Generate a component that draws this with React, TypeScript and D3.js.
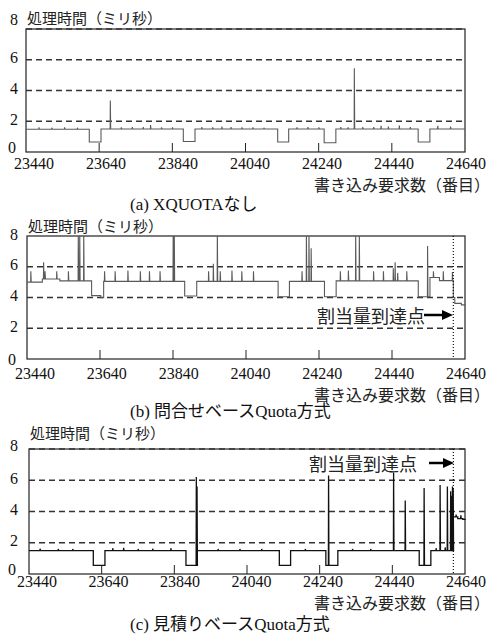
import React from 'react'
import * as d3 from 'd3'

const xTicks = [23440, 23640, 23840, 24040, 24240, 24440, 24640]
const yTicks = [0, 2, 4, 6, 8]

// [from, to, level] segments
const levelsA: [number, number, number][] = [
  [23440, 23613, 1.48], [23613, 23645, 0.65], [23645, 23870, 1.5], [23870, 23902, 0.68],
  [23902, 24128, 1.5], [24128, 24158, 0.65], [24158, 24255, 1.5], [24255, 24287, 0.6],
  [24287, 24512, 1.5], [24512, 24544, 0.65], [24544, 24640, 1.5],
]
const spikesA: [number, number][] = [
  [23475, 1.6], [23510, 1.58], [23545, 1.6], [23580, 1.58], [23670, 3.35], [23700, 1.6],
  [23730, 1.62], [23760, 1.62], [23780, 1.75], [23810, 1.6], [23840, 1.6], [23920, 1.62],
  [23950, 1.6], [23975, 1.65], [24000, 1.62], [24030, 1.6], [24060, 1.6], [24090, 1.58],
  [24180, 1.6], [24210, 1.62], [24240, 1.6], [24300, 1.62], [24320, 1.6], [24337, 5.45],
  [24360, 1.62], [24390, 1.62], [24410, 1.7], [24430, 1.65], [24460, 1.72], [24490, 1.62],
  [24565, 1.7], [24600, 1.65],
]

const levelsB: [number, number, number][] = [
  [23440, 23482, 5.0], [23482, 23530, 5.2], [23530, 23617, 5.08], [23617, 23642, 4.12],
  [23642, 23650, 3.98], [23650, 23872, 5.05], [23872, 23905, 4.1], [23905, 24128, 5.05],
  [24128, 24159, 4.05], [24159, 24255, 5.05], [24255, 24287, 4.05], [24287, 24512, 5.08],
  [24512, 24544, 4.05], [24544, 24570, 5.3], [24570, 24608, 5.1], [24608, 24612, 4.0],
  [24612, 24630, 3.62], [24630, 24642, 3.52],
]
const spikesB: [number, number][] = [
  [23450, 5.7], [23485, 6.3], [23489, 5.7], [23521, 5.7], [23553, 5.7], [23580, 8.3],
  [23584, 8.3], [23595, 8.3], [23652, 5.7], [23681, 5.7], [23716, 5.75], [23750, 5.7],
  [23775, 5.7], [23804, 5.7], [23840, 8.3], [23843, 8.3], [23937, 5.7], [23950, 6.2],
  [23961, 8.3], [23969, 5.7], [24001, 5.75], [24028, 5.7], [24060, 5.7], [24193, 5.7],
  [24205, 8.3], [24212, 8.3], [24218, 7.2], [24298, 5.7], [24320, 5.75], [24340, 8.3],
  [24350, 8.3], [24389, 5.7], [24416, 5.7], [24443, 5.9], [24448, 6.3], [24455, 5.6],
  [24480, 5.7], [24537, 7.35], [24553, 5.7], [24580, 5.7], [24605, 5.65],
]

const levelsC: [number, number, number][] = [
  [23440, 23617, 1.5], [23617, 23649, 0.55], [23649, 23872, 1.5], [23872, 23903, 0.55],
  [23903, 24129, 1.5], [24129, 24160, 0.55], [24160, 24257, 1.5], [24257, 24290, 0.55],
  [24290, 24514, 1.5], [24514, 24546, 0.55], [24546, 24608, 1.5], [24608, 24620, 3.65],
  [24620, 24634, 3.55], [24634, 24642, 3.5],
]
const spikesC: [number, number][] = [
  [23470, 1.62], [23520, 1.6], [23560, 1.6], [23670, 1.65], [23700, 1.68], [23740, 1.6],
  [23780, 1.62], [23830, 1.65], [23900, 6.2], [23902, 5.6], [23960, 1.6], [24020, 1.6],
  [24080, 1.6], [24200, 1.6], [24264, 6.3], [24330, 1.6], [24380, 1.6], [24443, 6.5],
  [24475, 4.7], [24527, 5.5], [24560, 1.65], [24571, 5.7], [24585, 1.7], [24591, 5.6],
  [24600, 5.3], [24603, 5.0], [24605, 5.6], [24607, 5.5], [24615, 3.8], [24628, 3.75],
]

const xAxisTitle = '書き込み要求数（番目）'
const yAxisTitle = '処理時間（ミリ秒）'
const quotaLabel = '割当量到達点'
const quotaPoint = 24608

const panels = [
  {
    key: 'a', levels: levelsA, spikes: spikesA, caption: '(a) XQUOTAなし',
    left: 26, right: 465, top: 29, bottom: 152, titleY: 17, tickY: 163, xTitleY: 184, captionY: 204,
    grid: [2, 4, 6, 8], color: '#5a5a5a', width: 1.1, topLabelDy: -8, zeroDy: -3,
    quota: null as null | { textX: number; y: number; a0: number; a1: number },
  },
  {
    key: 'b', levels: levelsB, spikes: spikesB, caption: '(b) 問合せベースQuota方式',
    left: 27, right: 465, top: 236, bottom: 359, titleY: 225, tickY: 373, xTitleY: 394, captionY: 411,
    grid: [2, 4, 6], color: '#5a5a5a', width: 1.1, topLabelDy: 0, zeroDy: 2,
    quota: { textX: 425, y: 315, a0: 424, a1: 453 },
  },
  {
    key: 'c', levels: levelsC, spikes: spikesC, caption: '(c) 見積りベースQuota方式',
    left: 29, right: 465, top: 449, bottom: 574, titleY: 432, tickY: 581, xTitleY: 602, captionY: 624,
    grid: [2, 4, 6, 8], color: '#111', width: 1.3, topLabelDy: -2, zeroDy: -3,
    quota: { textX: 417, y: 463, a0: 429, a1: 454 },
  },
]

function buildSeries(levels: [number, number, number][], spikes: [number, number][]) {
  const pts: [number, number][] = []
  levels.forEach(([x0, x1, y]) => {
    pts.push([x0, y])
    spikes
      .filter(([sx]) => sx >= x0 && sx < x1)
      .sort((p, q) => p[0] - q[0])
      .forEach(([sx, peak]) => {
        pts.push([sx, y], [sx + 0.5, peak], [sx + 1.5, y])
      })
    pts.push([x1, y])
  })
  return pts
}

const serif = '"Liberation Serif", "DejaVu Serif", serif'
const cjk = '"Noto Sans CJK JP", "Noto Sans", sans-serif'

function Panel({ p }: { p: (typeof panels)[number] }) {
  const x = d3.scaleLinear().domain([23440, 24640]).range([p.left, p.right])
  const xLab = d3.scaleLinear().domain([23440, 24640]).range([p.left + 8, p.right + 1])
  const y = d3.scaleLinear().domain([0, 8]).range([p.bottom, p.top])
  const line = d3.line<[number, number]>().x((d) => x(d[0])).y((d) => y(d[1]))
  const series = buildSeries(p.levels, p.spikes)
  const clipId = `clip-${p.key}`
  return (
    <g>
      <defs>
        <clipPath id={clipId}>
          <rect x={p.left} y={p.top} width={p.right - p.left + 6} height={p.bottom - p.top} />
        </clipPath>
      </defs>
      <rect x={p.left} y={p.top} width={p.right - p.left} height={p.bottom - p.top} fill="none" stroke="#222" strokeWidth={1.2} />
      {p.grid.map((g) => (
        <line key={g} x1={p.left} x2={p.right} y1={y(g)} y2={y(g)} stroke="#333" strokeWidth={1.3} strokeDasharray="6,4" />
      ))}
      {xTicks.slice(1, -1).map((t) => (
        <line key={t} x1={x(t)} x2={x(t)} y1={p.bottom} y2={p.bottom - 9} stroke="#222" strokeWidth={1} />
      ))}
      <path d={line(series) ?? ''} fill="none" stroke={p.color} strokeWidth={p.width} clipPath={`url(#${clipId})`} />
      {p.quota && (
        <g>
          <line x1={x(quotaPoint)} x2={x(quotaPoint)} y1={p.top} y2={p.bottom} stroke="#111" strokeWidth={1.2} strokeDasharray="1,2" />
          <text x={p.quota.textX} y={p.quota.y} textAnchor="end" dominantBaseline="central" fontFamily={cjk} fontSize={18} fill="#222">
            {quotaLabel}
          </text>
          <line x1={p.quota.a0} x2={p.quota.a1 - 10} y1={p.quota.y} y2={p.quota.y} stroke="#000" strokeWidth={2.5} />
          <path d={`M${p.quota.a1},${p.quota.y} l-11,-5 v10 z`} fill="#000" />
        </g>
      )}
      {yTicks.map((t) => (
        <text key={t} x={t === 0 ? 12 : 14} y={y(t) - 2 + (t === 8 ? p.topLabelDy : 0) + (t === 0 ? p.zeroDy : 0)}
          textAnchor="middle" dominantBaseline="central" fontFamily={serif} fontSize={16} fill="#111">
          {t}
        </text>
      ))}
      {xTicks.map((t) => (
        <text key={t} x={xLab(t)} y={p.tickY} textAnchor="middle" dominantBaseline="central" fontFamily={serif} fontSize={16} fill="#111">
          {t}
        </text>
      ))}
      <text x={p.left + 1} y={p.titleY} dominantBaseline="central" fontFamily={cjk} fontSize={15} fill="#222">
        {yAxisTitle}
      </text>
      <text x={490} y={p.xTitleY} textAnchor="end" dominantBaseline="central" fontFamily={cjk} fontSize={16} fill="#222">
        {xAxisTitle}
      </text>
      <text x={130} y={p.captionY} dominantBaseline="central" fontFamily={`${serif}, ${cjk}`} fontSize={17} fill="#111">
        {p.caption}
      </text>
    </g>
  )
}

export default function App() {
  return (
    <svg width={495} height={639} style={{ position: 'absolute', left: 0, top: 0, background: '#fff' }}>
      <rect width={495} height={639} fill="#fff" />
      {panels.map((p) => (
        <Panel key={p.key} p={p} />
      ))}
    </svg>
  )
}
